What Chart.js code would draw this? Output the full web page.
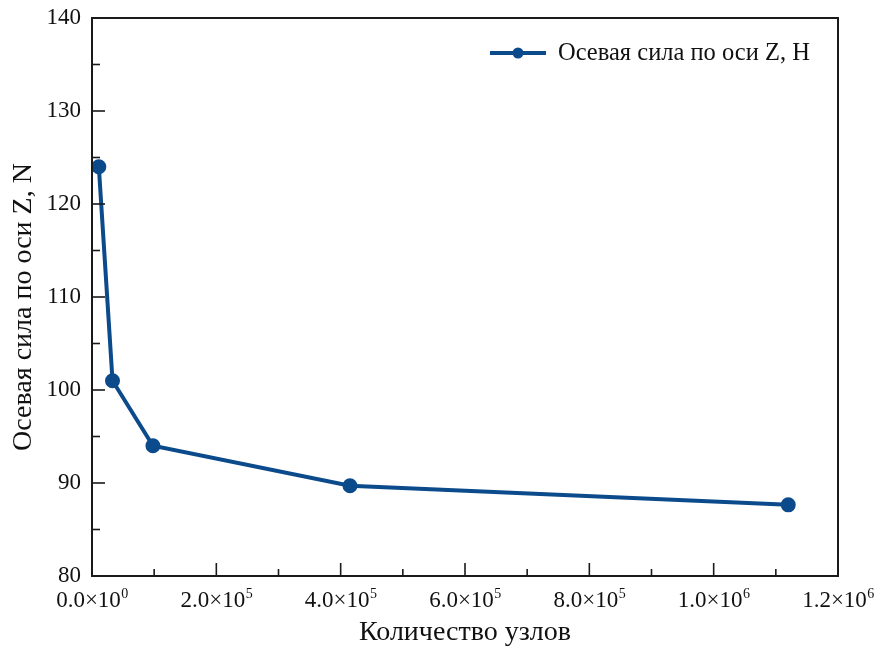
<!DOCTYPE html>
<html>
<head>
<meta charset="utf-8">
<script src="https://cdn.jsdelivr.net/npm/chart.js@4"></script>
<style>
  body { margin: 0; background: #fff; }
  #wrap { width: 881px; height: 649px; }
</style>
</head>
<body>
<div id="wrap"><canvas id="chart" width="881" height="649"></canvas></div>
<script>
const nodeCounts = [11000, 33000, 98000, 415000, 1120000];
const axialForce = [124.0, 101.0, 94.0, 89.7, 87.65];
const seriesLabel = "Осевая сила по оси Z, H";
const xTitle = "Количество узлов";
const yTitle = "Осевая сила по оси Z, N";
// x tick labels as mantissa×10 plus exponent (drawn as a superscript)
const xTickBase = ["0.0×10", "2.0×10", "4.0×10", "6.0×10", "8.0×10", "1.0×10", "1.2×10"];
const xTickExp = ["0", "5", "5", "5", "5", "6", "6"];
const yTickLabels = ["80", "90", "100", "110", "120", "130", "140"];

const lineColor = "#0b4a8b";
const fontFamily = "'Liberation Serif', 'Times New Roman', serif";

// frame on all four sides, inward ticks (major + minor), x tick labels, y title and the legend
const framePlugin = {
  id: "frame",
  afterDraw(chart) {
    const { ctx, chartArea: a, scales } = chart;
    ctx.save();
    ctx.strokeStyle = "#1a1a1a";
    ctx.lineWidth = 2;
    ctx.strokeRect(a.left, a.top, a.right - a.left, a.bottom - a.top);

    ctx.lineWidth = 1.6;
    scales.x.ticks.forEach((t) => {
      const px = scales.x.getPixelForValue(t.value);
      const i = Math.round(t.value / 1e5);
      const major = i % 2 === 0;
      if (major) {
        const base = xTickBase[i / 2];
        const exp = xTickExp[i / 2];
        ctx.font = "23px " + fontFamily;
        const wb = ctx.measureText(base).width;
        ctx.font = "14px " + fontFamily;
        const we = ctx.measureText(exp).width;
        const x0 = px - (wb + we) / 2;
        ctx.fillStyle = "#111";
        ctx.textBaseline = "alphabetic";
        ctx.textAlign = "left";
        ctx.font = "23px " + fontFamily;
        ctx.fillText(base, x0, a.bottom + 31);
        ctx.font = "14px " + fontFamily;
        ctx.fillText(exp, x0 + wb + 0.5, a.bottom + 22);
      }
      if (t.value === 0 || t.value >= 1.2e6) return;
      ctx.beginPath();
      ctx.moveTo(px, a.bottom);
      ctx.lineTo(px, a.bottom - (major ? 13 : 7));
      ctx.stroke();
    });
    scales.y.ticks.forEach((t) => {
      const py = scales.y.getPixelForValue(t.value);
      const major = t.value % 10 === 0;
      if (t.value <= 80 || t.value >= 140) return;
      ctx.beginPath();
      ctx.moveTo(a.left, py);
      ctx.lineTo(a.left + (major ? 13 : 8), py);
      ctx.stroke();
    });

    // y axis title, sits a little below the plot centre in the original
    ctx.save();
    ctx.translate(24, (a.top + a.bottom) / 2 + 10);
    ctx.rotate(-Math.PI / 2);
    ctx.fillStyle = "#111";
    ctx.font = "28px " + fontFamily;
    ctx.textAlign = "center";
    ctx.textBaseline = "middle";
    ctx.fillText(yTitle, 0, 0);
    ctx.restore();

    // legend
    const ds = chart.data.datasets[0];
    const ly = a.top + 35;
    const lx = a.left + 398;
    ctx.strokeStyle = ds.borderColor;
    ctx.lineWidth = ds.borderWidth;
    ctx.beginPath();
    ctx.moveTo(lx, ly);
    ctx.lineTo(lx + 56, ly);
    ctx.stroke();
    ctx.fillStyle = ds.pointBackgroundColor;
    ctx.beginPath();
    ctx.arc(lx + 28, ly, ds.pointRadius, 0, Math.PI * 2);
    ctx.fill();
    ctx.fillStyle = "#111";
    ctx.font = "24.5px " + fontFamily;
    ctx.textBaseline = "middle";
    ctx.textAlign = "left";
    ctx.fillText(ds.label, lx + 68, ly + 1);
    ctx.restore();
  },
};

new Chart(document.getElementById("chart"), {
  type: "line",
  data: {
    datasets: [{
      label: seriesLabel,
      data: nodeCounts.map((x, i) => ({ x, y: axialForce[i] })),
      borderColor: lineColor,
      backgroundColor: lineColor,
      pointBackgroundColor: lineColor,
      pointBorderColor: lineColor,
      borderWidth: 4,
      pointRadius: 5.5,
      tension: 0,
    }],
  },
  options: {
    responsive: false,
    animation: false,
    layout: { padding: { top: 18, right: 43, left: 0, bottom: 0 } },
    plugins: { legend: { display: false }, tooltip: { enabled: false } },
    scales: {
      x: {
        type: "linear",
        min: 0,
        max: 1.2e6,
        grid: { display: false, drawTicks: false },
        border: { display: false },
        ticks: {
          stepSize: 1e5,
          autoSkip: false,
          maxRotation: 0,
          callback: () => "",
        },
        title: {
          display: true,
          text: xTitle,
          color: "#111",
          font: { family: fontFamily, size: 28 },
          padding: { top: 0, bottom: 0 },
        },
        afterFit: (s) => {
          s.height = 73;
          s.paddingLeft = 0; s.paddingRight = 0; s.paddingTop = 0; s.paddingBottom = 0;
        },
      },
      y: {
        min: 80,
        max: 140,
        grid: { display: false, drawTicks: false },
        border: { display: false },
        ticks: {
          stepSize: 5,
          autoSkip: false,
          padding: 11,
          color: "#111",
          font: { family: fontFamily, size: 23 },
          callback: (v) => (v % 10 === 0 ? yTickLabels[(v - 80) / 10] : ""),
        },
        title: { display: false },
        afterFit: (s) => {
          s.width = 92;
          s.paddingLeft = 0; s.paddingRight = 0; s.paddingTop = 0; s.paddingBottom = 0;
        },
      },
    },
  },
  plugins: [framePlugin],
});
</script>
</body>
</html>
